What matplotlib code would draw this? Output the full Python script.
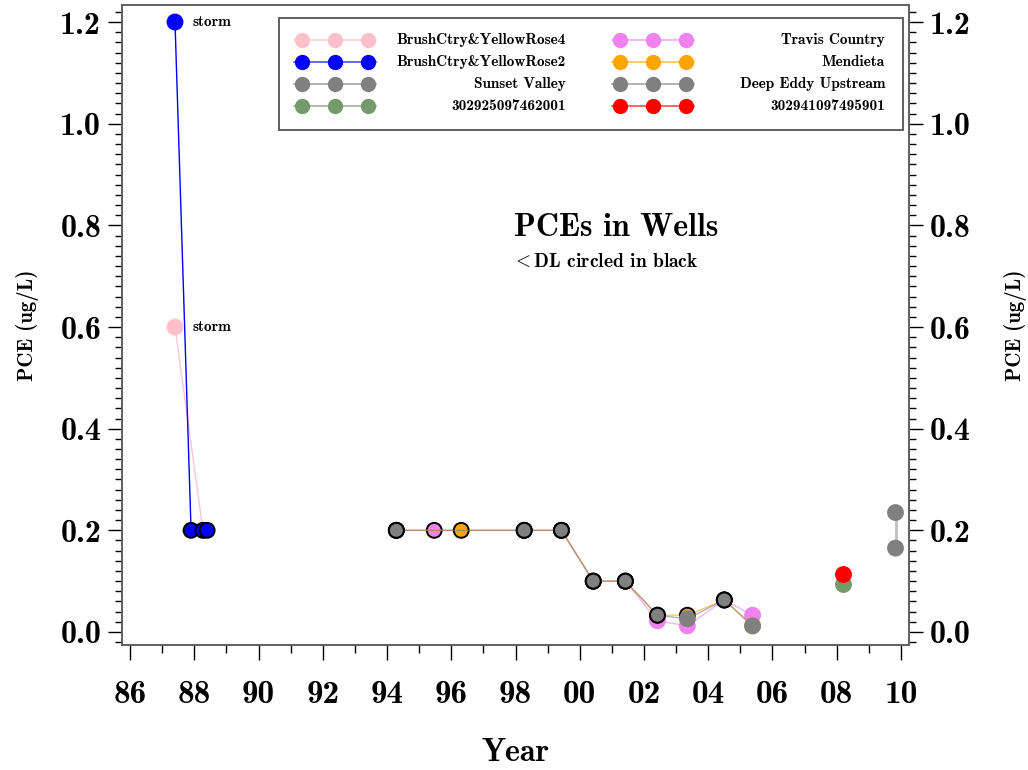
import matplotlib.pyplot as plt
from matplotlib.ticker import MultipleLocator, FuncFormatter
from matplotlib.lines import Line2D
from matplotlib.patches import Rectangle

plt.rcParams["font.family"] = ["cmb10", "DejaVu Serif"]
plt.rcParams["mathtext.fontset"] = "cm"

# sample dates (decimal years) and PCE results; dl = below detection limit
rose4_year = [1987.40, 1988.27]
rose4_pce = [0.6, 0.2]
rose4_dl = [False, False]

rose2_year = [1987.40, 1987.90, 1988.27, 1988.40]
rose2_pce = [1.2, 0.2, 0.2, 0.2]
rose2_dl = [False, True, True, True]

travis_year = [1994.29, 1995.47, 1998.27, 1999.43, 2000.42, 2001.42, 2002.42, 2003.35, 2004.50, 2005.38]
travis_pce = [0.2, 0.2, 0.2, 0.2, 0.1, 0.1, 0.022, 0.012, 0.063, 0.033]
travis_dl = [True, True, True, True, True, True, False, False, True, False]

mendieta_year = [1994.29, 1996.31, 1998.27, 1999.43, 2000.42, 2001.42, 2002.42, 2003.35, 2004.50, 2005.38]
mendieta_pce = [0.2, 0.2, 0.2, 0.2, 0.1, 0.1, 0.033, 0.033, 0.063, 0.012]
mendieta_dl = [True, True, True, True, True, True, True, True, True, False]

sunset_year = [1994.29, 1998.27, 1999.43, 2000.42, 2001.42, 2002.42, 2003.35, 2004.50, 2005.38]
sunset_pce = [0.2, 0.2, 0.2, 0.1, 0.1, 0.033, 0.026, 0.063, 0.012]
sunset_dl = [True, True, True, True, True, True, False, True, False]

well_a_year = [2008.18]
well_a_pce = [0.095]
well_b_year = [2008.18]
well_b_pce = [0.115]

deep_eddy_year = [2009.83, 2009.83]
deep_eddy_pce = [0.235, 0.165]

storm_year = [1987.40, 1987.40]
storm_pce = [1.2, 0.6]

legend_labels = ["BrushCtry&YellowRose4", "BrushCtry&YellowRose2", "Sunset Valley", "302925097462001",
                 "Travis Country", "Mendieta", "Deep Eddy Upstream", "302941097495901"]
legend_colors = ["pink", "#0000ff", "#808080", "#74996a",
                 "violet", "orange", "#808080", "#ff0000"]

fig = plt.figure(figsize=(10.28, 7.70), dpi=100)
ax = fig.add_axes([122 / 1028, 1 - 645 / 770, 787 / 1028, 640 / 770])


def draw_series(x, y, dl, color, z, line_alpha=0.6, lw=1.0):
    ax.plot(x, y, color=color, lw=lw, alpha=line_alpha, zorder=z)
    edges = ["black" if d else color for d in dl]
    ax.scatter(x, y, s=115, c=color, edgecolors=edges, linewidths=1.4, zorder=z + 0.5)


draw_series(rose4_year, rose4_pce, rose4_dl, "pink", 2, line_alpha=0.9)
draw_series(rose2_year, rose2_pce, rose2_dl, "#0000ff", 3, line_alpha=1.0)
draw_series(travis_year, travis_pce, travis_dl, "violet", 4)
draw_series(mendieta_year, mendieta_pce, mendieta_dl, "orange", 5)
draw_series(sunset_year, sunset_pce, sunset_dl, "#808080", 6)
draw_series(well_a_year, well_a_pce, [False], "#74996a", 7)
draw_series(well_b_year, well_b_pce, [False], "#ff0000", 8)
draw_series(deep_eddy_year, deep_eddy_pce, [False, False], "#808080", 9, line_alpha=0.5, lw=2)

for x, y in zip(storm_year, storm_pce):
    ax.text(x + 0.55, y, "storm", fontsize=11, va="center", ha="left")

ax.set_xlim(1985.75, 2010.25)
ax.set_ylim(-0.0256, 1.2335)

ax.xaxis.set_major_locator(MultipleLocator(2))
ax.xaxis.set_minor_locator(MultipleLocator(1))
ax.xaxis.set_major_formatter(FuncFormatter(lambda v, p: f"{int(round(v)) % 100:02d}"))
ax.yaxis.set_major_locator(MultipleLocator(0.2))
ax.yaxis.set_minor_locator(MultipleLocator(0.02))
ax.yaxis.set_major_formatter(FuncFormatter(lambda v, p: f"{v:.1f}"))

ax.tick_params(axis="x", which="major", direction="out", length=11, width=1, labelsize=24, pad=14)
ax.tick_params(axis="x", which="minor", direction="out", length=6, width=1)
ax.tick_params(axis="y", which="major", direction="out", length=10, width=1, labelsize=23, pad=5,
               right=True, labelright=True)
ax.tick_params(axis="y", which="minor", direction="out", length=5, width=1, right=True)

for sp in ax.spines.values():
    sp.set_color("#606060")
    sp.set_linewidth(1.4)

ax.set_xlabel("Year", fontsize=23, va="center")
ax.xaxis.set_label_coords(0.5, -0.168)
ax.set_ylabel("PCE (ug/L)", fontsize=15, va="center")
ax.yaxis.set_label_coords(-0.12, 0.5)
ax.text(1.135, 0.5, "PCE (ug/L)", fontsize=15, rotation=90, va="center", ha="center",
        transform=ax.transAxes)

ax.text(0.628, 0.652, "PCEs in Wells", fontsize=23, ha="center", va="center", transform=ax.transAxes)
ax.text(0.4955, 0.598, r"$<$DL circled in black", fontsize=14, ha="left", va="center",
        transform=ax.transAxes)

# legend box, two columns of line+marker samples with right-aligned names
fig.patches.append(Rectangle((279 / 1028, 1 - 130 / 770), 624 / 1028, 112 / 770,
                             transform=fig.transFigure, fill=False, edgecolor="#606060", lw=1.4))
row_y = [40, 62, 84, 106]
for i, (lab, col) in enumerate(zip(legend_labels, legend_colors)):
    c = i // 4
    yy = 1 - row_y[i % 4] / 770
    x0 = 302 if c == 0 else 620
    xs = [(x0 - 8) / 1028, (x0 + 74) / 1028]
    fig.add_artist(Line2D(xs, [yy, yy], color=col, lw=1.2, alpha=0.7, transform=fig.transFigure))
    fig.add_artist(Line2D([x0 / 1028, (x0 + 33) / 1028, (x0 + 66) / 1028], [yy] * 3, ls="none",
                          marker="o", ms=10, color=col, transform=fig.transFigure))
    tx = 566 if c == 0 else 885
    fig.text(tx / 1028, yy, lab, fontsize=11, ha="right", va="center")

plt.savefig("out.png", dpi=100)
